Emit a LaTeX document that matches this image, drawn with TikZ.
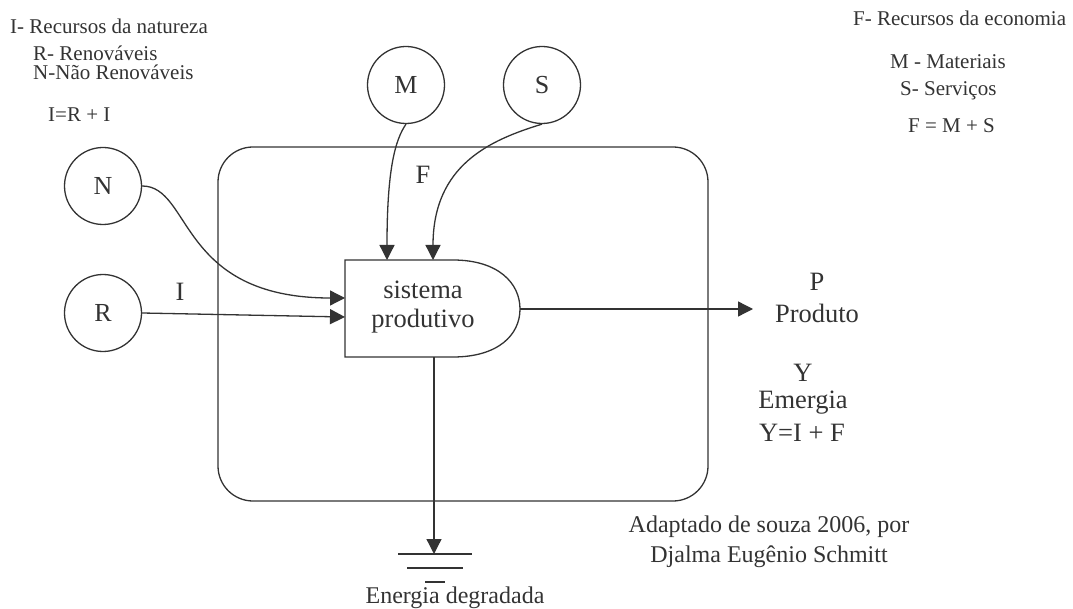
\documentclass[tikz,border=0pt]{standalone}
\usepackage{fontspec}
\setmainfont{Liberation Serif}
\usetikzlibrary{arrows.meta}
\begin{document}
\begin{tikzpicture}[x=1pt,y=-1pt,
  line/.style={draw=black!80, line width=1.3pt},
  arr/.style={line, -{Triangle[length=15pt,width=15pt]}},
  src/.style={circle, draw=black!80, line width=1.3pt, minimum size=77pt, inner sep=0pt, text=black!80, font=\fontsize{26}{28}\selectfont},
  lbl/.style={font=\fontsize{26.5}{30}\selectfont, text=black!80, align=center, inner sep=0pt},
  mid/.style={font=\fontsize{24}{30}\selectfont, text=black!80, align=center, inner sep=0pt},
  sml/.style={font=\fontsize{21}{24}\selectfont, text=black!80, inner sep=0pt, anchor=west}
]
\useasboundingbox (0,0) rectangle (1073,609);
% big box
\draw[line, rounded corners=35pt] (218,147) rectangle (708,501);
% sources
\node[src] (M) at (406,85) {M};
\node[src] (S) at (542,85) {S};
\node[src] (N) at (103,186) {N};
\node[src] (R) at (103,313) {R};
% production system
\draw[line] (453,260) -- (345,260) -- (345,357) -- (453,357)
  .. controls (498,357) and (520,335) .. (520,309)
  .. controls (520,283) and (498,260) .. (453,260);
\node[lbl] (sp1) at (423,290) {sistema};
\node[lbl] (sp2) at (423,321) {produtivo};
\coordinate (spin1) at (345,298);
\coordinate (spin2) at (345,317);
\coordinate (sptop1) at (387,260);
\coordinate (sptop2) at (433,260);
\coordinate (spout) at (520,309);
\coordinate (spbot) at (434,357);
% arrows
\draw[arr] (M.south) .. controls (395,140) and (387,170) .. (sptop1);
\draw[arr] (S.south) .. controls (490,140) and (433,165) .. (sptop2);
\draw[arr] (N.east) .. controls (192,186) and (178,298) .. (spin1);
\draw[arr] (R.east) -- (spin2);
\coordinate (pout) at (753,309);
\draw[arr] (spout) -- (pout);
\coordinate (gnd) at (434,554);
\draw[arr] (spbot) -- (gnd);
% ground
\draw[line] (398,554) -- (472,554);
\draw[line] (407,568) -- (463,568);
\draw[line] (425,582) -- (445,582);
% labels
\node[lbl] (Fl) at (423,175) {F};
\node[lbl] (Il) at (180,292) {I};
\node[lbl] (P) at (817,282) {P};
\node[lbl] (Pr) at (817,313) {Produto};
\node[lbl] (Y) at (803,373) {Y};
\node[lbl] (Em) at (803,403) {Emergia};
\node[lbl] (YI) at (802,433) {Y=I + F};
\node[mid] (ed) at (455,598) {Energia degradada};
\node[mid] (ad1) at (769,527) {Adaptado de souza 2006, por};
\node[mid] (ad2) at (769,557) {Djalma Eugênio Schmitt};
% top-left text
\node[sml] (t1) at (10,26) {I- Recursos da natureza};
\node[sml] (t2) at (33,53) {R- Renováveis};
\node[sml] (t3) at (33,72) {N-Não Renováveis};
\node[sml] (t4) at (48,115) {I=R + I};
% top-right text
\node[sml] (u1) at (853,18) {F- Recursos da economia};
\node[sml] (u2) at (890,62) {M - Materiais};
\node[sml] (u3) at (900,91) {S- Serviços};
\node[sml] (u4) at (908,126) {F = M + S};
\end{tikzpicture}
\end{document}
